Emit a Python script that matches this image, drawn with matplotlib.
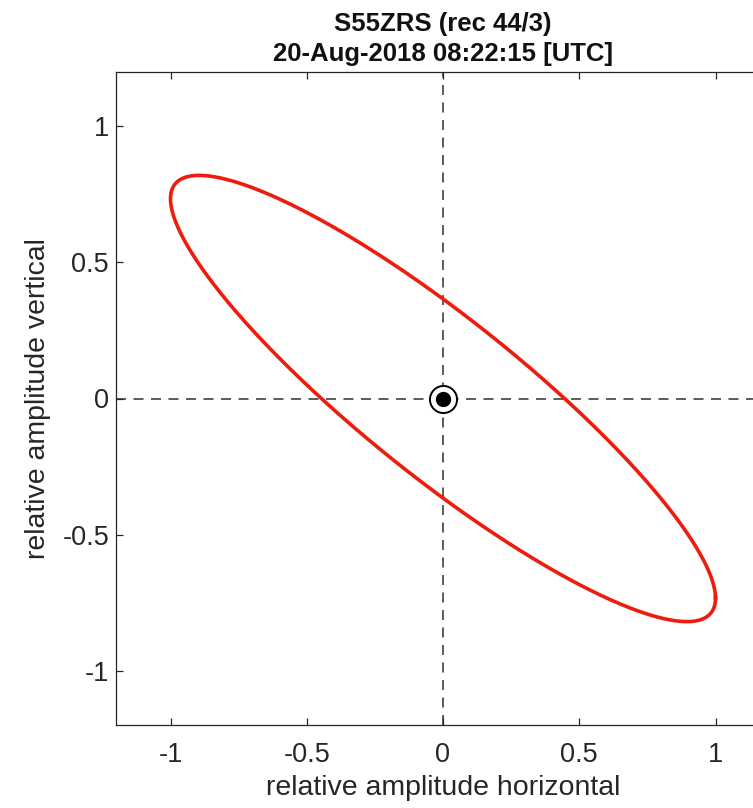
import numpy as np
import matplotlib
matplotlib.use("Agg")
import matplotlib.pyplot as plt

# Polarization ellipse parameters (horizontal amplitude normalised to 1)
station = "S55ZRS (rec 44/3)"
timestamp = "20-Aug-2018 08:22:15 [UTC]"
amp_horizontal = 1.0
amp_vertical = 0.82
phase_deg = 153.5

x_ticks = [-1, -0.5, 0, 0.5, 1]
y_ticks = [-1, -0.5, 0, 0.5, 1]
x_tick_labels = ["-1", "-0.5", "0", "0.5", "1"]
y_tick_labels = ["-1", "-0.5", "0", "0.5", "1"]
axis_limits = (-1.2, 1.2)

plt.rcParams["font.family"] = ["Liberation Sans", "DejaVu Sans"]

fig = plt.figure(figsize=(7.53, 8.08), dpi=100)
ax = fig.add_axes([116 / 753, 83 / 808, 654 / 753, 653 / 808])

t = np.linspace(0, 2 * np.pi, 721)
phi = np.deg2rad(phase_deg)
x = amp_horizontal * np.cos(t)
y = amp_vertical * np.cos(t + phi)

ax.axhline(0, color="#404040", lw=1.2, ls=(0, (6, 4.5)), zorder=1)
ax.axvline(0, color="#404040", lw=1.2, ls=(0, (6, 4.5)), zorder=1)
ax.plot(x, y, color="#ee1c0e", lw=2.6, zorder=3)

ax.plot([0], [0], marker="o", ms=19.5, mfc="white", mec="black", mew=1.4, zorder=4)
ax.plot([0], [0], marker="o", ms=10, mfc="black", mec="black", zorder=5)

ax.set_xlim(*axis_limits)
ax.set_ylim(*axis_limits)
ax.set_xticks(x_ticks)
ax.set_xticklabels(x_tick_labels)
ax.set_yticks(y_ticks)
ax.set_yticklabels(y_tick_labels)

ax.tick_params(direction="in", length=5, width=0.9, colors="#262626",
               labelsize=19.5, labelcolor="#262626", top=True, right=True)
ax.tick_params(axis="x", pad=12)
ax.tick_params(axis="y", pad=5)
for s in ax.spines.values():
    s.set_color("#262626")
    s.set_linewidth(0.9)

ax.set_xlabel("relative amplitude horizontal", fontsize=20.5, color="#262626", labelpad=5)
ax.set_ylabel("relative amplitude vertical", fontsize=20.5, color="#262626", labelpad=8)
ax.set_title(station + "\n" + timestamp, fontsize=18.5, fontweight="bold",
             color="#111111", pad=8, linespacing=1.3)

fig.savefig("out.png", dpi=100)
